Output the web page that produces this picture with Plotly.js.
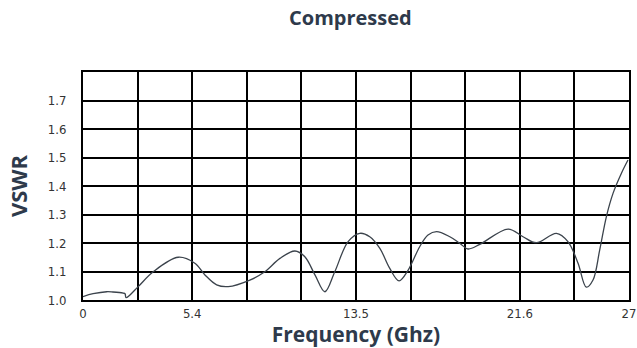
<!DOCTYPE html>
<html>
<head>
<meta charset="utf-8">
<script src="https://cdn.plot.ly/plotly-3.0.1.min.js"></script>
<style>html,body{margin:0;padding:0;background:#fff;}#chart{width:637px;height:348px;}</style>
</head>
<body>
<div id="chart"></div>
<script>
const frequency = [0, 0.5, 1.17, 1.48, 1.99, 2.08, 2.13, 2.73, 3.47, 4.71, 5.53, 6.03, 6.61, 7.18, 8.25, 8.99, 9.74, 10.48, 10.97, 11.47, 11.96, 12.45, 13.11, 13.69, 14.18, 14.68, 15.17, 15.63, 16.08, 16.65, 17.06, 17.48, 18.14, 18.63, 19.04, 19.62, 21.02, 21.76, 22.42, 23.41, 23.98, 24.48, 24.89, 25.22, 25.55, 25.88, 26.21, 26.62, 26.95];
const vswr = [1.012, 1.022, 1.029, 1.028, 1.024, 1.022, 1.008, 1.047, 1.099, 1.150, 1.129, 1.088, 1.053, 1.047, 1.070, 1.099, 1.146, 1.172, 1.152, 1.088, 1.029, 1.099, 1.205, 1.234, 1.222, 1.181, 1.111, 1.067, 1.105, 1.187, 1.228, 1.240, 1.222, 1.199, 1.179, 1.195, 1.249, 1.222, 1.201, 1.234, 1.205, 1.129, 1.045, 1.070, 1.175, 1.292, 1.374, 1.444, 1.491];
const xTickVals = [0, 2.7, 5.4, 8.1, 10.8, 13.5, 16.2, 18.9, 21.6, 24.3, 27];
const xTickText = ["0", "", "5.4", "", "", "13.5", "", "", "21.6", "", "27"];
const yTickVals = [1.0, 1.1, 1.2, 1.3, 1.4, 1.5, 1.6, 1.7];
const yTickText = ["1.0", "1.1", "1.2", "1.3", "1.4", "1.5", "1.6", "1.7"];

const tickFont = {family: "Liberation Sans Narrow, DejaVu Sans Condensed, sans-serif", size: 13, color: "#333333"};
const titleFont = {family: "Open Sans, Lato, sans-serif", size: 21, color: "#2e3a4b", weight: 700};

Plotly.newPlot("chart", [{
  x: frequency, y: vswr, type: "scatter", mode: "lines",
  line: {color: "#3b434c", width: 1.3, shape: "spline", smoothing: 1},
  hoverinfo: "skip"
}], {
  width: 637, height: 348,
  margin: {l: 83, r: 8, t: 72, b: 48},
  paper_bgcolor: "#ffffff", plot_bgcolor: "#ffffff",
  showlegend: false,
  title: {text: "Compressed", x: 0.55, xanchor: "center", y: 0.948, yanchor: "middle",
          font: {family: "Open Sans, Lato, sans-serif", size: 20, color: "#2e3a4b", weight: 700}},
  xaxis: {
    range: [0, 27], tickmode: "array", tickvals: xTickVals, ticktext: xTickText,
    showgrid: true, gridcolor: "#000000", gridwidth: 2,
    showline: true, linecolor: "#000000", linewidth: 2, mirror: true,
    zeroline: false, ticks: "", tickfont: tickFont,
    title: {text: "Frequency (Ghz)", font: titleFont, standoff: 4}
  },
  yaxis: {
    range: [1.0, 1.8], tickmode: "array", tickvals: yTickVals, ticktext: yTickText,
    showgrid: true, gridcolor: "#000000", gridwidth: 2,
    showline: true, linecolor: "#000000", linewidth: 2, mirror: true,
    zeroline: false, ticks: "", tickfont: tickFont, ticklabelstandoff: 12,
    title: {text: "VSWR", font: {family: "Open Sans, Lato, sans-serif", size: 22, color: "#2e3a4b", weight: 700}, standoff: 14}
  }
}, {staticPlot: true, displayModeBar: false});
</script>
</body>
</html>
